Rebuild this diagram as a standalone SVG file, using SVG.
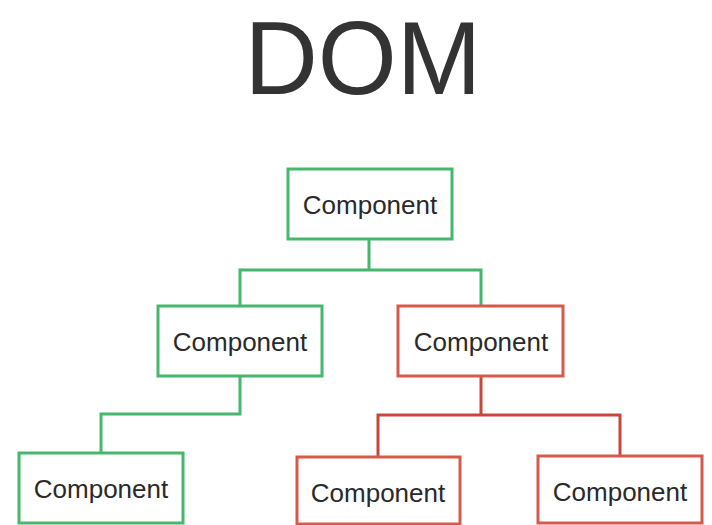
<svg xmlns="http://www.w3.org/2000/svg" width="712" height="525" viewBox="0 0 712 525">
<style>
.g{fill:#fff;stroke:#45b86e;stroke-width:3}
.r{fill:#fff;stroke:#d65a4a;stroke-width:3}
.t{font-family:"Liberation Sans",Arial,sans-serif;font-size:26px;fill:#2a2a2a;text-anchor:middle}
.lg{fill:none;stroke:#45b86e;stroke-width:3}
.lr{fill:none;stroke:#c8473a;stroke-width:3}
</style>
<rect width="712" height="525" fill="#fff"/>
<text id="title" x="363" y="94" font-family="Liberation Sans,Arial,sans-serif" font-size="103" fill="#333" text-anchor="middle" textLength="237" lengthAdjust="spacingAndGlyphs">DOM</text>
<g id="connectors">
<path class="lg" d="M369,239 V270 M240,306 V270 H481 V306"/>
<path class="lg" d="M240,376 V414 H101 V453"/>
<path class="lr" d="M481,376 V415 M378,457 V415 H620 V456"/>
</g>
<g id="root"><rect class="g" x="288" y="169" width="164" height="70"/><text class="t" x="370" y="214">Component</text></g>
<g id="midLeft"><rect class="g" x="158" y="306" width="164" height="70"/><text class="t" x="240" y="351">Component</text></g>
<g id="midRight"><rect class="r" x="398" y="306" width="165" height="70"/><text class="t" x="481" y="351">Component</text></g>
<g id="botLeft"><rect class="g" x="19" y="453" width="164" height="70"/><text class="t" x="101" y="498">Component</text></g>
<g id="botMid"><rect class="r" x="297" y="457" width="163" height="67"/><text class="t" x="378" y="502">Component</text></g>
<g id="botRight"><rect class="r" x="538" y="456" width="164" height="67"/><text class="t" x="620" y="501">Component</text></g>
</svg>
